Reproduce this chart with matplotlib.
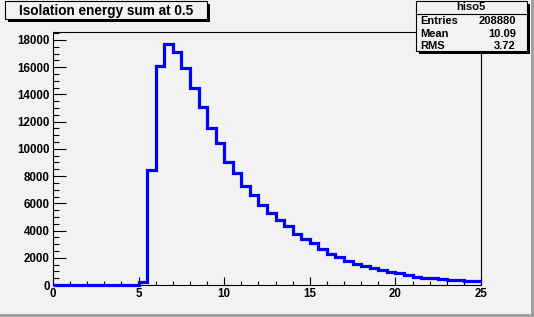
import matplotlib.pyplot as plt
from matplotlib.patches import Rectangle
from matplotlib.ticker import MultipleLocator

# ROOT style histogram: hiso5, 50 bins from 0 to 25
bin_edges = [i * 0.5 for i in range(51)]
counts = [
    0, 0, 0, 0, 0, 0, 0, 0, 0, 0,
    200, 8420, 16100, 17700, 17100, 15950, 14500, 13050, 11550, 10450,
    9000, 8220, 7300, 6600, 5900, 5270, 4800, 4300, 3780, 3400,
    3050, 2680, 2310, 2040, 1770, 1560, 1410, 1220, 1080, 970,
    860, 710, 610, 530, 490, 440, 390, 340, 290, 270,
]
title = "Isolation energy sum at 0.5"
stats_name = "hiso5"
stats_rows = [("Entries", "208880"), ("Mean", "10.09"), ("RMS", "3.72")]

W, H = 534, 317
bg = "#f2f2f2"
plt.rcParams["font.family"] = ["Liberation Sans", "DejaVu Sans"]
plt.rcParams["font.weight"] = "bold"

fig = plt.figure(figsize=(W / 100, H / 100), dpi=100, facecolor=bg)


def fx(x):
    return x / W


def fy(y):
    return 1 - y / H


# frame in pixel coords
left, right, top, bottom = 53, 481, 32, 285
ax = fig.add_axes([fx(left), fy(bottom), fx(right - left), (bottom - top) / H])
ax.set_facecolor(bg)

ax.stairs(counts, bin_edges, baseline=None, color="#0000ff", linewidth=2.3,
          clip_on=False, zorder=5)

ax.set_xlim(0, 25)
ax.set_ylim(0, 1.05 * max(counts))

ax.xaxis.set_major_locator(MultipleLocator(5))
ax.xaxis.set_minor_locator(MultipleLocator(1))
ax.yaxis.set_major_locator(MultipleLocator(2000))
ax.yaxis.set_minor_locator(MultipleLocator(500))

ax.tick_params(axis="both", which="both", direction="in", top=False, right=False,
               width=0.8, colors="black", labelsize=8.3)
ax.tick_params(axis="y", which="major", length=9.4, pad=2.2)
ax.tick_params(axis="y", which="minor", length=4.3)
ax.tick_params(axis="x", which="major", length=5.8, pad=2.5)
ax.tick_params(axis="x", which="minor", length=2.9)
for lab in ax.get_xticklabels() + ax.get_yticklabels():
    lab.set_fontweight("bold")
for sp in ax.spines.values():
    sp.set_linewidth(0.8)
    sp.set_color("black")


def pave(x0, y0, x1, y1, shadow=3):
    # ROOT pave: dark shadow offset to lower right, then the box on top
    fig.patches.append(Rectangle((fx(x0 + shadow), fy(y1 + shadow)),
                                 fx(x1 - x0), (y1 - y0) / H,
                                 transform=fig.transFigure, facecolor="black",
                                 edgecolor="none", zorder=10))
    fig.patches.append(Rectangle((fx(x0), fy(y1)), fx(x1 - x0), (y1 - y0) / H,
                                 transform=fig.transFigure, facecolor=bg,
                                 edgecolor="black", linewidth=0.8, zorder=11))


# title box
pave(5, 1, 207, 19)
fig.text(fx(106), fy(10.5), title, ha="center", va="center", fontsize=9.8,
         fontweight="bold", zorder=12)

# stats box
pave(416, 1, 527, 51)
fig.add_artist(plt.Line2D([fx(416), fx(527)], [fy(14), fy(14)],
                          transform=fig.transFigure, color="black",
                          linewidth=0.8, zorder=12))
fig.text(fx(471), fy(7.5), stats_name, ha="center", va="center", fontsize=8,
         fontweight="bold", zorder=12)
for i, (name, val) in enumerate(stats_rows):
    yc = 21.5 + i * 12.3
    fig.text(fx(420), fy(yc), name, ha="left", va="center", fontsize=8,
             fontweight="bold", zorder=12)
    fig.text(fx(516), fy(yc), val, ha="right", va="center", fontsize=8,
             fontweight="bold", zorder=12)

# canvas bevel on right and bottom
fig.patches.append(Rectangle((fx(531), 0), fx(3), 1, transform=fig.transFigure,
                             facecolor="#a0a0a0", edgecolor="none", zorder=1))
fig.patches.append(Rectangle((0, 0), 1, 3 / H, transform=fig.transFigure,
                             facecolor="#a0a0a0", edgecolor="none", zorder=1))

fig.savefig("out.png", dpi=100, facecolor=bg)
